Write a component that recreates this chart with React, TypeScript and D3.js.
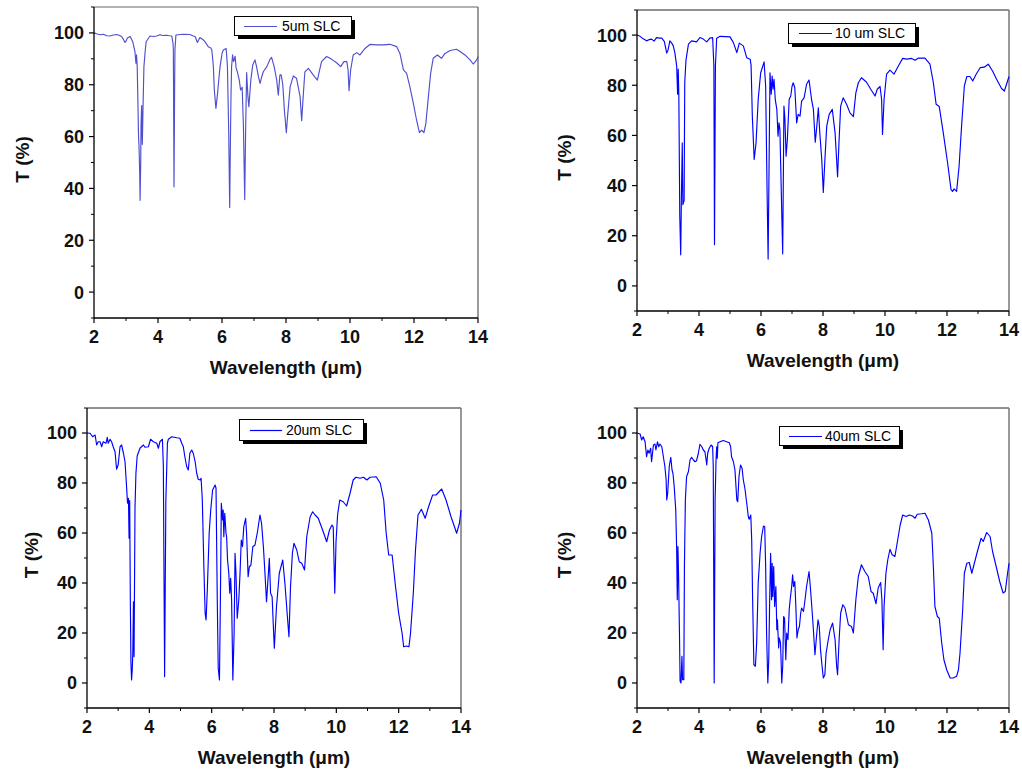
import React from "react";
import * as d3 from "d3";

type Pt = [number, number];

// ---------- data (wavelength µm, transmittance %) ----------
const spectrum5um: Pt[] = [
  [2.0,100],[2.1,99.6],[2.2,99.3],[2.29,99.5],[2.4,98.9],[2.5,98.8],[2.6,99.2],[2.71,99.4],[2.8,99.0],[2.86,98.6],[2.92,97.5],[2.97,96.3],[3.0,96.8],[3.04,98.0],[3.13,98.6],[3.21,96.6],[3.28,92.8],[3.31,88.3],[3.33,91.5],[3.35,87],[3.37,75],[3.39,61],[3.41,55],[3.43,45],[3.44,35.4],[3.46,50],[3.47,65],[3.49,72],[3.5,62],[3.51,57],[3.53,70],[3.56,87],[3.6,93],[3.63,96.6],[3.75,98.8],[3.85,98.6],[3.96,98.8],[4.06,99.3],[4.15,99.0],[4.27,99.1],[4.35,98.9],[4.43,98.8],[4.47,96],[4.48,93.4],[4.5,40.6],[4.52,80],[4.53,93.4],[4.56,99.2],[4.7,99.4],[4.79,99.5],[5.0,99.4],[5.1,98.8],[5.16,98.6],[5.23,96.3],[5.31,98.2],[5.4,97.5],[5.47,96.6],[5.57,94.7],[5.65,94.2],[5.68,93.5],[5.71,90],[5.73,87],[5.76,78],[5.81,70.9],[5.86,76.5],[5.9,82],[5.94,87],[6.0,92],[6.04,93.4],[6.13,94],[6.17,87],[6.21,61.2],[6.24,32.6],[6.26,55],[6.28,75],[6.3,87],[6.33,91.5],[6.36,89],[6.38,89.5],[6.41,91],[6.44,86.5],[6.48,85],[6.54,81.8],[6.58,78],[6.63,79],[6.67,63.8],[6.71,35.7],[6.74,63.8],[6.77,84.7],[6.81,75.4],[6.84,71.5],[6.9,81.8],[6.96,87.6],[7.03,89.6],[7.08,87],[7.14,83],[7.19,80.5],[7.24,83],[7.29,85],[7.4,87],[7.5,89.8],[7.55,90.6],[7.63,87],[7.71,81.8],[7.76,76],[7.81,83.8],[7.85,83.8],[7.9,80],[7.95,70.2],[8.01,61.5],[8.05,68],[8.13,79.3],[8.23,83.4],[8.33,82.5],[8.44,75.4],[8.49,66.1],[8.54,76],[8.59,85],[8.7,86.3],[8.85,83.8],[8.98,81.8],[9.11,88.9],[9.27,90.9],[9.43,89.8],[9.58,88.5],[9.71,87],[9.81,88.9],[9.9,88.9],[9.94,85.7],[9.97,77.7],[10.02,85.7],[10.1,91.5],[10.21,92.4],[10.31,91.5],[10.47,94],[10.63,95.6],[10.83,95.4],[11.04,95.4],[11.25,95.6],[11.46,94.7],[11.56,92.1],[11.67,85.7],[11.77,84.4],[11.87,79.3],[11.98,72.8],[12.08,66.4],[12.17,61.5],[12.24,62.5],[12.31,61.5],[12.37,65],[12.45,75.4],[12.52,84.4],[12.6,90.2],[12.73,91.5],[12.86,90.2],[12.97,92.1],[13.13,93.2],[13.33,93.7],[13.44,92.8],[13.59,91.5],[13.75,89.6],[13.85,88],[13.96,89.6],[14.0,90.9],
];

const spectrum10um: Pt[] = [
  [2.0,100],[2.1,99.5],[2.2,98.5],[2.31,97.7],[2.4,98.2],[2.47,98.4],[2.55,97.6],[2.63,99],[2.72,98.8],[2.8,98.8],[2.88,97.5],[2.96,92.8],[3.0,94],[3.06,97.7],[3.12,96.8],[3.17,95.7],[3.22,93],[3.28,87.7],[3.31,76.4],[3.33,86.4],[3.35,75.7],[3.38,27.7],[3.41,12.4],[3.43,33],[3.46,57],[3.48,32.4],[3.52,34],[3.54,81],[3.58,90],[3.66,96.4],[3.76,97.7],[3.92,97.3],[4.03,99],[4.14,98.4],[4.25,97.3],[4.35,98.8],[4.44,99],[4.48,87.7],[4.5,16.4],[4.53,87.7],[4.57,98.7],[4.68,99.5],[5.0,99.3],[5.11,97],[5.22,93],[5.3,96.8],[5.43,95.7],[5.54,91],[5.65,90.4],[5.68,88],[5.72,67.7],[5.78,50.4],[5.84,57],[5.91,74.4],[5.99,85],[6.1,89.3],[6.15,79.7],[6.2,34.4],[6.23,10.7],[6.26,47.7],[6.29,85],[6.33,76.4],[6.36,83.7],[6.39,78.4],[6.42,82.4],[6.46,74.4],[6.51,70.4],[6.55,59.7],[6.58,65],[6.61,62.4],[6.66,34.4],[6.7,12.8],[6.74,71.7],[6.77,67],[6.81,51.7],[6.85,58.4],[6.91,74.4],[6.96,75.7],[7.0,79.5],[7.04,81],[7.09,79],[7.15,65],[7.2,68.4],[7.26,67.7],[7.31,73.7],[7.39,75],[7.47,80.4],[7.55,82.1],[7.63,74.4],[7.69,70.4],[7.75,57.3],[7.8,63.7],[7.85,71],[7.9,60.4],[7.96,50.4],[8.01,37.3],[8.06,50],[8.12,63.7],[8.2,68.4],[8.3,70.4],[8.39,61],[8.47,43.5],[8.52,58.4],[8.57,71.7],[8.65,75],[8.76,72.4],[8.87,69],[8.98,67.5],[9.06,77],[9.14,81],[9.24,83],[9.4,81.3],[9.54,78.4],[9.68,75.7],[9.75,78.4],[9.84,79.5],[9.89,74.4],[9.92,60.4],[9.97,74.4],[10.05,84.4],[10.16,86],[10.29,84.4],[10.43,87.7],[10.57,90.7],[10.7,90.4],[10.86,90.7],[10.97,90],[11.07,90.8],[11.29,90.8],[11.45,88.4],[11.56,81],[11.65,72.4],[11.75,71.5],[11.88,61],[12.02,49],[12.13,38.4],[12.18,37.7],[12.23,38.7],[12.31,37.7],[12.39,47.7],[12.47,63.7],[12.56,79.7],[12.64,83.5],[12.74,83.5],[12.83,81.7],[12.94,84.4],[13.07,87],[13.2,87.2],[13.33,88.4],[13.47,85.7],[13.6,82.4],[13.76,78.7],[13.85,77.7],[13.92,80.4],[14.0,83.5],
];

const spectrum20um: Pt[] = [
  [2.0,100],[2.1,99.9],[2.18,98.5],[2.26,99.2],[2.31,95.2],[2.36,96.5],[2.42,96.5],[2.47,94.5],[2.52,96.5],[2.61,95.9],[2.65,98.3],[2.68,95.9],[2.74,97.5],[2.79,96.5],[2.84,94.5],[2.9,92.5],[2.95,85.5],[3.0,87.3],[3.06,94.5],[3.11,95.2],[3.17,91.9],[3.22,88.5],[3.27,78.5],[3.3,71.9],[3.33,73.9],[3.35,57.9],[3.37,73],[3.39,33.2],[3.41,7.9],[3.43,1.2],[3.45,5],[3.47,11.9],[3.49,32.5],[3.51,10.5],[3.54,70],[3.57,83.9],[3.61,90.8],[3.7,93.9],[3.81,95.2],[3.86,94.3],[3.97,94.5],[4.04,97.5],[4.13,96.5],[4.24,95.9],[4.29,93.9],[4.34,96.5],[4.42,97.5],[4.45,86.5],[4.49,2.5],[4.53,73],[4.58,95.9],[4.61,97.5],[4.72,98.5],[4.88,98.1],[4.98,97.9],[5.04,95.9],[5.09,94.5],[5.14,90.5],[5.2,86.5],[5.25,85.2],[5.3,91.9],[5.36,93.2],[5.41,91.9],[5.47,88.5],[5.52,83.9],[5.57,81.5],[5.63,81.2],[5.66,81.9],[5.7,73.2],[5.75,46.5],[5.79,27.9],[5.82,25.2],[5.86,37.2],[5.92,59.9],[5.97,69.2],[6.03,77.2],[6.11,79.2],[6.14,77.9],[6.18,33.2],[6.21,6],[6.25,1.2],[6.28,33.2],[6.31,71.9],[6.35,65.2],[6.37,69.2],[6.39,58.5],[6.42,67.9],[6.46,59.9],[6.48,58.5],[6.51,49.2],[6.55,43.9],[6.58,35.9],[6.61,41.9],[6.64,33.2],[6.68,1.2],[6.72,19.9],[6.75,51.9],[6.78,43.9],[6.82,25.9],[6.87,33.2],[6.91,43.9],[6.95,57.2],[6.99,54.5],[7.03,62.5],[7.09,65.9],[7.12,59.9],[7.17,42.5],[7.21,46.5],[7.26,47.2],[7.32,54.5],[7.39,55.2],[7.47,60.5],[7.55,67.2],[7.6,63.9],[7.66,54.5],[7.71,43.9],[7.76,32.5],[7.82,43.9],[7.85,49.9],[7.89,35.9],[7.94,34.5],[7.98,22.5],[8.01,13.9],[8.08,30.5],[8.17,43.9],[8.28,49.2],[8.35,39.9],[8.43,26.5],[8.48,18.5],[8.53,38.5],[8.59,51.9],[8.64,55.9],[8.73,53.2],[8.81,48.5],[8.89,47.9],[8.98,45.2],[9.05,58.5],[9.16,66.5],[9.24,68.5],[9.32,67.2],[9.42,65.9],[9.5,63.2],[9.58,60.5],[9.69,56.5],[9.78,61.2],[9.86,63.2],[9.9,62.5],[9.93,46.5],[9.95,35.9],[9.99,56.5],[10.04,67.2],[10.11,73.2],[10.22,72.5],[10.33,70.8],[10.44,75.9],[10.54,81.2],[10.63,82.3],[10.76,81.9],[10.87,82.3],[10.98,81.2],[11.08,82.3],[11.28,82.5],[11.41,79.9],[11.52,73.2],[11.6,59.9],[11.68,51.2],[11.79,51.2],[11.9,38.5],[12.0,27.9],[12.11,19.9],[12.16,14.5],[12.25,14.8],[12.33,14.5],[12.38,19.9],[12.47,35.9],[12.54,53.2],[12.62,67.2],[12.73,69.5],[12.85,65.9],[12.96,70.5],[13.09,75.2],[13.2,75.2],[13.38,77.6],[13.52,73.2],[13.68,66.5],[13.79,62.5],[13.86,59.9],[13.95,63.9],[14.0,69.2],
];

const spectrum40um: Pt[] = [
  [2.0,100],[2.1,99.6],[2.15,97.2],[2.2,98.5],[2.26,96.5],[2.31,90.5],[2.35,93.2],[2.39,91.9],[2.44,93.9],[2.47,88.5],[2.53,95.2],[2.58,95.6],[2.61,93.2],[2.66,96.5],[2.7,94.5],[2.74,95.6],[2.8,94.5],[2.85,90.5],[2.9,86.6],[2.94,81.2],[2.96,73.2],[2.99,75.9],[3.04,86.6],[3.09,90.3],[3.13,85.2],[3.16,83.9],[3.2,78.6],[3.25,69.2],[3.28,53.3],[3.3,33.3],[3.32,54.6],[3.34,43.9],[3.37,19.9],[3.39,0.7],[3.42,0],[3.45,10.7],[3.47,1.3],[3.51,1.3],[3.53,46.6],[3.56,73.2],[3.6,82.6],[3.66,84.6],[3.71,89.2],[3.76,90.3],[3.82,89.2],[3.87,88.5],[3.92,88.9],[3.98,91.9],[4.03,95.5],[4.09,94.5],[4.14,93.2],[4.19,92.5],[4.23,89.2],[4.25,87.2],[4.28,91.9],[4.33,93.9],[4.39,95.2],[4.44,94.5],[4.46,86.6],[4.49,0],[4.52,73.2],[4.55,89.2],[4.57,94.5],[4.59,89.9],[4.61,96.1],[4.68,96.5],[4.78,97],[4.89,96.5],[4.98,96.1],[5.02,94.5],[5.05,90.5],[5.11,88.5],[5.16,85.2],[5.22,73.2],[5.25,72.5],[5.29,82.6],[5.34,87.2],[5.39,85.9],[5.43,81.2],[5.48,77.9],[5.54,71.9],[5.59,66.6],[5.62,65.5],[5.67,67.2],[5.7,57.3],[5.73,33.3],[5.77,7.3],[5.82,6.7],[5.86,16],[5.91,40],[5.97,51.9],[6.02,58.6],[6.08,62.8],[6.12,62.5],[6.15,46.6],[6.18,20],[6.22,0],[6.25,9.3],[6.28,33.3],[6.31,51.9],[6.34,33.3],[6.36,47.9],[6.38,34.6],[6.41,46.6],[6.44,30.6],[6.48,38.6],[6.51,21.3],[6.53,25.3],[6.57,14],[6.59,18],[6.63,16],[6.67,0],[6.7,6.7],[6.73,26.6],[6.76,25.9],[6.8,9.3],[6.83,20],[6.87,17.3],[6.91,29.3],[6.94,33.3],[6.99,38.6],[7.02,43.3],[7.05,38.6],[7.09,40.6],[7.12,31.9],[7.16,18],[7.2,21.3],[7.24,22.6],[7.28,27.9],[7.31,30],[7.37,28.6],[7.42,33.3],[7.47,38.6],[7.55,44.6],[7.59,38.6],[7.65,28.6],[7.69,21.3],[7.74,11.3],[7.8,20],[7.84,25.3],[7.88,22.6],[7.92,13.3],[7.97,6.7],[8.01,2],[8.06,3.3],[8.1,12],[8.17,17.3],[8.23,21.3],[8.31,24],[8.39,17.3],[8.44,6.7],[8.47,3.3],[8.52,17.3],[8.57,28],[8.64,31.3],[8.71,30],[8.82,23.3],[8.92,22.6],[8.98,20],[9.06,33.3],[9.14,42.6],[9.24,47.3],[9.35,44.6],[9.46,42.6],[9.55,36.6],[9.62,35.9],[9.71,31.7],[9.78,38],[9.86,40.2],[9.9,33.3],[9.94,13.3],[9.97,30.6],[10.03,43.9],[10.09,49.3],[10.16,53.5],[10.23,51.3],[10.32,50.6],[10.41,57.3],[10.49,63.2],[10.57,67.2],[10.68,66.6],[10.79,67.2],[10.89,66.8],[10.97,65.9],[11.04,67.5],[11.18,67.7],[11.29,67.9],[11.4,65.2],[11.51,59.9],[11.56,46.6],[11.61,30.6],[11.69,26.6],[11.75,25.9],[11.83,16],[11.9,9.3],[11.99,5.3],[12.1,2],[12.2,2],[12.31,2.7],[12.37,5.3],[12.42,12],[12.5,28],[12.56,43.9],[12.64,47.9],[12.72,48.2],[12.8,43.9],[12.87,47.3],[12.98,52.6],[13.1,57.9],[13.17,56.6],[13.28,60.2],[13.39,58.6],[13.47,52.6],[13.6,45.9],[13.7,40.6],[13.81,36],[13.88,36.6],[13.94,42.6],[14.0,47.9],
];

const seriesLabels = ["5um SLC", "10 um SLC", "20um SLC", "40um SLC"];
const xMajorTicks = [2, 4, 6, 8, 10, 12, 14];
const xMinorTicks = [3, 5, 7, 9, 11, 13];
const yMajorTicks = [0, 20, 40, 60, 80, 100];
const yMinorTicks = [-10, 10, 30, 50, 70, 90, 110];
const xDomain: [number, number] = [2, 14];
const yDomain: [number, number] = [-10, 110];

const FONT = "'Liberation Sans', Arial, Helvetica, sans-serif";

interface PanelCfg {
  data: Pt[];
  label: string;
  color: string;
  left: number; right: number; top: number; bottom: number;
  yTitleX: number;
  legend: { x: number; y: number; w: number; h: number; lineX0: number; lineX1: number; textX: number };
  tickFont: number;
  titleFont: number;
  frameColor: string;
}

const panels: PanelCfg[] = [
  {
    data: spectrum5um, label: seriesLabels[0], color: "#4f4fd0",
    left: 94, right: 478, top: 7, bottom: 318, yTitleX: 22,
    legend: { x: 234, y: 16, w: 117, h: 19, lineX0: 244, lineX1: 277, textX: 282 },
    tickFont: 18, titleFont: 19, frameColor: "#666",
  },
  {
    data: spectrum10um, label: seriesLabels[1], color: "#0000ff",
    left: 637, right: 1009, top: 10, bottom: 311, yTitleX: 564,
    legend: { x: 788, y: 23, w: 127, h: 20, lineX0: 799, lineX1: 832, textX: 835 },
    tickFont: 18, titleFont: 19, frameColor: "#222",
  },
  {
    data: spectrum20um, label: seriesLabels[2], color: "#0000ff",
    left: 87, right: 461, top: 408, bottom: 708, yTitleX: 31,
    legend: { x: 239, y: 419, w: 124, h: 21, lineX0: 250, lineX1: 282, textX: 286 },
    tickFont: 18, titleFont: 19, frameColor: "#222",
  },
  {
    data: spectrum40um, label: seriesLabels[3], color: "#0000ff",
    left: 637, right: 1009, top: 408, bottom: 708, yTitleX: 564,
    legend: { x: 779, y: 426, w: 120, h: 19, lineX0: 789, lineX1: 822, textX: 825 },
    tickFont: 18, titleFont: 19, frameColor: "#222",
  },
];

function Panel({ cfg }: { cfg: PanelCfg }) {
  const x = d3.scaleLinear().domain(xDomain).range([cfg.left, cfg.right]);
  const y = d3.scaleLinear().domain(yDomain).range([cfg.bottom, cfg.top]);
  const line = d3.line<Pt>().x((d) => x(d[0])).y((d) => y(d[1]));
  const lg = cfg.legend;
  const cx = (cfg.left + cfg.right) / 2;
  const cy = (cfg.top + cfg.bottom) / 2 - 3;
  const ly = Math.round(lg.y + lg.h / 2) + 0.5;
  return (
    <g>
      {/* frame */}
      <line x1={cfg.left} x2={cfg.right} y1={cfg.top} y2={cfg.top} stroke={cfg.frameColor} strokeWidth={1} />
      <line x1={cfg.right} x2={cfg.right} y1={cfg.top} y2={cfg.bottom} stroke="#777" strokeWidth={1.5} />
      {/* spectrum */}
      <path d={line(cfg.data) || ""} fill="none" stroke={cfg.color} strokeWidth={1.15} strokeLinejoin="round" />
      {/* axes */}
      <line x1={cfg.left} x2={cfg.left} y1={cfg.top} y2={cfg.bottom} stroke="#000" strokeWidth={1.3} />
      <line x1={cfg.left} x2={cfg.right} y1={cfg.bottom} y2={cfg.bottom} stroke="#000" strokeWidth={1.3} />
      {yMajorTicks.map((t) => (
        <g key={"ym" + t}>
          <line x1={cfg.left - 5} x2={cfg.left} y1={y(t)} y2={y(t)} stroke="#000" strokeWidth={1.2} />
          <text x={cfg.left - 10} y={y(t)} dy="0.36em" textAnchor="end" fontFamily={FONT} fontWeight="bold" fontSize={cfg.tickFont} fill="#111">{t}</text>
        </g>
      ))}
      {yMinorTicks.map((t) => (
        <line key={"yn" + t} x1={cfg.left - 3} x2={cfg.left} y1={y(t)} y2={y(t)} stroke="#000" strokeWidth={1} />
      ))}
      {xMajorTicks.map((t) => (
        <g key={"xm" + t}>
          <line x1={x(t)} x2={x(t)} y1={cfg.bottom} y2={cfg.bottom + 5} stroke="#000" strokeWidth={1.2} />
          <text x={x(t)} y={cfg.bottom + 25} textAnchor="middle" fontFamily={FONT} fontWeight="bold" fontSize={cfg.tickFont} fill="#111">{t}</text>
        </g>
      ))}
      {xMinorTicks.map((t) => (
        <line key={"xn" + t} x1={x(t)} x2={x(t)} y1={cfg.bottom} y2={cfg.bottom + 3} stroke="#000" strokeWidth={1} />
      ))}
      {/* axis titles */}
      <text x={cx} y={cfg.bottom + 56} textAnchor="middle" fontFamily={FONT} fontWeight="bold" fontSize={cfg.titleFont} fill="#111">Wavelength (μm)</text>
      <text transform={`translate(${cfg.yTitleX},${cy}) rotate(-90)`} dy="0.36em" textAnchor="middle" fontFamily={FONT} fontWeight="bold" fontSize={cfg.titleFont} fill="#111">T (%)</text>
      {/* legend */}
      <rect x={lg.x + 4} y={lg.y + 4} width={lg.w} height={lg.h} fill="#000" />
      <rect x={lg.x + 0.5} y={lg.y + 0.5} width={lg.w} height={lg.h} fill="#fff" stroke="#000" strokeWidth={1} />
      <line x1={lg.lineX0} x2={lg.lineX1} y1={ly} y2={ly} stroke={cfg.color} strokeWidth={1.2} />
      <text x={lg.textX} y={lg.y + lg.h / 2} dy="0.36em" fontFamily={FONT} fontSize={14} fill="#000">{cfg.label}</text>
    </g>
  );
}

export default function App() {
  return (
    <svg width={1022} height={775} style={{ position: "absolute", left: 0, top: 0, background: "#fff" }}>
      <rect x={0} y={0} width={1022} height={775} fill="#fff" />
      {panels.map((p, i) => (
        <Panel key={i} cfg={p} />
      ))}
    </svg>
  );
}
